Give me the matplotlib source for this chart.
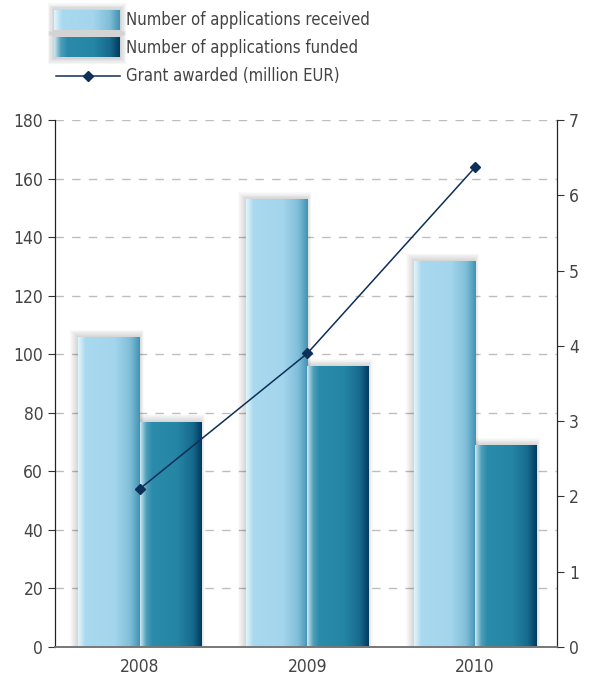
import numpy as np
import matplotlib
matplotlib.use("Agg")
import matplotlib.pyplot as plt
from matplotlib.colors import LinearSegmentedColormap
from matplotlib.patches import Rectangle

plt.rcParams['font.family'] = ['DejaVu Sans']
plt.rcParams['font.stretch'] = 'condensed'

years = ['2008', '2009', '2010']
received = [106, 153, 132]
funded = [77, 96, 69]
grant = [2.1, 3.9, 6.37]

labels = ['Number of applications received',
          'Number of applications funded',
          'Grant awarded (million EUR)']

cm_received = LinearSegmentedColormap.from_list(
    'rec', [(0, '#e4f5fc'), (0.12, '#a9d9ef'), (0.6, '#a3d5ec'),
            (0.85, '#7fbdd8'), (1, '#3f93b3')])
cm_funded = LinearSegmentedColormap.from_list(
    'fun', [(0, '#cfe8f1'), (0.1, '#4e9fba'), (0.2, '#2a8bab'),
            (0.6, '#2585a5'), (0.85, '#176b8e'), (1, '#013a5f')])
line_color = '#0e2f58'
text_color = '#444444'

grad = np.linspace(0, 1, 256).reshape(1, -1)


def gradient_bars(ax, bars, cmap):
    for b in bars:
        x0, w, h = b.get_x(), b.get_width(), b.get_height()
        # soft shadow
        for k in range(8):
            px = k + 1
            ax.add_patch(Rectangle((x0 - 0.006 * px, 0), w + 0.009 * px, h + 0.3 * px,
                                   color='black', alpha=0.018, lw=0, zorder=1))
        im = ax.imshow(grad, extent=[x0, x0 + w, 0, h], aspect='auto',
                       cmap=cmap, zorder=2, interpolation='bicubic')
        im.set_clip_path(b)


fig = plt.figure(figsize=(5.9, 6.8), dpi=100)
ax = fig.add_axes([0.0932, 0.0485, 0.851, 0.775])
ax2 = ax.twinx()

x = np.arange(len(years))
width = 0.365
b1 = ax.bar(x - width / 2, received, width, color='none', zorder=2)
b2 = ax.bar(x + width / 2, funded, width, color='none', zorder=2)
gradient_bars(ax, b1, cm_received)
gradient_bars(ax, b2, cm_funded)

ax.set_xlim(-0.505, 2.49)
ax.set_ylim(0, 180)
ax.set_yticks(range(0, 181, 20))
ax.set_xticks(x)
ax.set_xticklabels(years)
ax.yaxis.grid(True, linestyle=(0, (6, 6)), color='#bdbdbd', lw=1.0)
ax.set_axisbelow(True)

ax2.plot(x, grant, color=line_color, lw=1.1, marker='D', ms=5.5, zorder=5)
ax2.set_ylim(0, 7)
ax2.set_yticks(range(0, 8))

for a in (ax, ax2):
    a.spines['top'].set_visible(False)
    a.spines['left'].set_color('#222222')
    a.spines['right'].set_color('#222222')
    a.spines['bottom'].set_color('#777777')
    a.spines['bottom'].set_linewidth(1.2)
    a.tick_params(labelsize=12.5, colors='#333333', labelcolor=text_color,
                  length=5, width=0.8)
ax.tick_params(axis='x', length=0, pad=8)

# legend
lax = fig.add_axes([0, 0.87, 1, 0.13])
lax.axis('off')
for i, cmap in enumerate([cm_received, cm_funded]):
    y0 = 9 + i * 25
    for k in range(5):
        p = 1.2 * (k + 1)
        lax.add_patch(Rectangle((54 - p, y0 - p), 66 + 2 * p, 18 + 2 * p,
                                color='black', alpha=0.035, lw=0, zorder=1))
    lax.imshow(grad, extent=[54, 120, y0 + 18, y0], aspect='auto', cmap=cmap,
               interpolation='bicubic', zorder=2)
    lax.text(126, y0 + 9, labels[i], va='center', fontsize=12, color=text_color)
lax.plot([56, 120], [69, 69], color=line_color, lw=1.1)
lax.plot([88], [69], marker='D', ms=5.5, color=line_color)
lax.text(126, 69, labels[2], va='center', fontsize=12, color=text_color)
lax.set_xlim(0, 590)
lax.set_ylim(80, 0)

fig.savefig('out.png', dpi=100)
